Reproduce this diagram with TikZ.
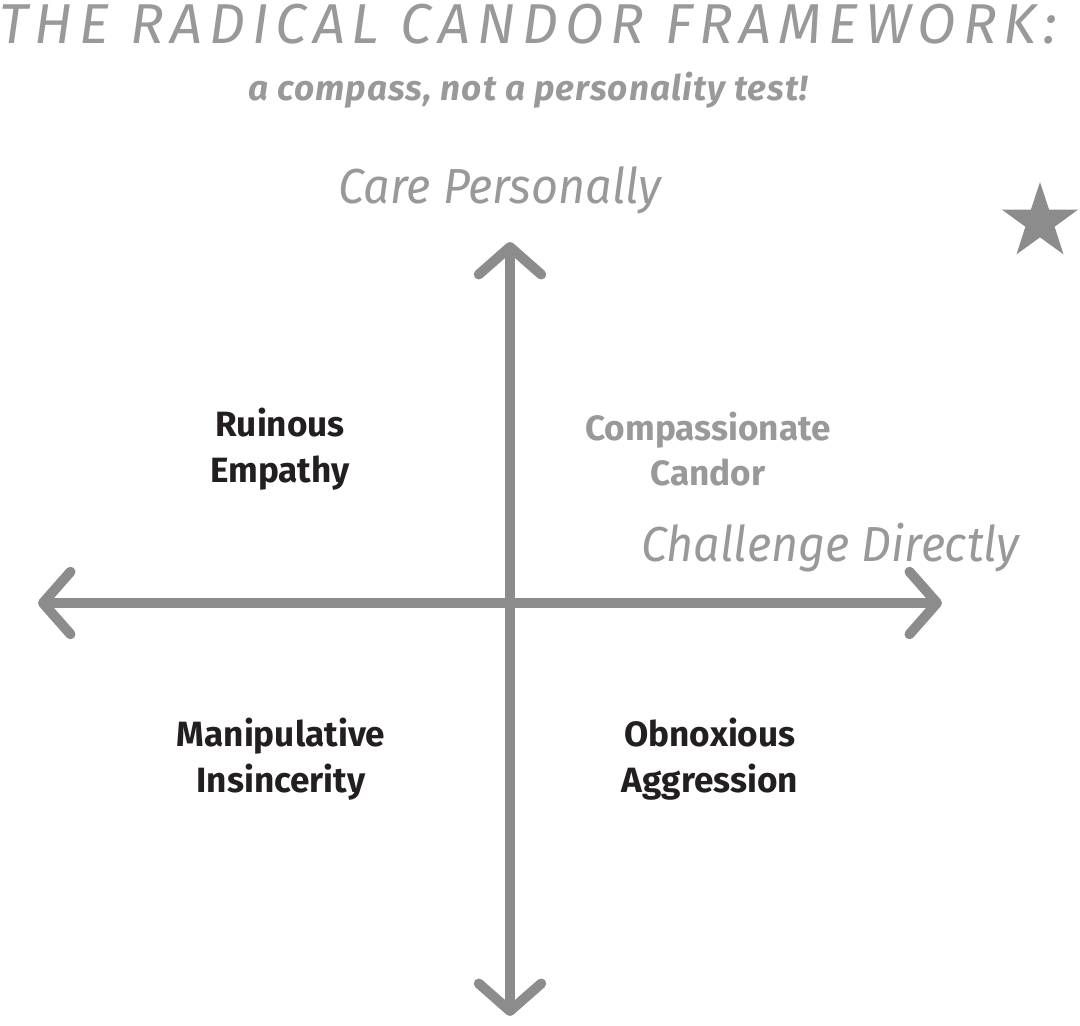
\documentclass[tikz,border=0pt]{standalone}
\usepackage{fontspec}
\setmainfont{Fira Sans}
\usetikzlibrary{arrows.meta,shapes.geometric}
\definecolor{ax}{HTML}{8C8C8C}
\definecolor{lt}{HTML}{999999}
\definecolor{dk}{HTML}{231F20}
\begin{document}
\begin{tikzpicture}[x=0.02cm,y=-0.02cm,
  axis/.style={draw=ax,line width=0.2cm,line cap=round,{Straight Barb[length=0.55cm,width=1.25cm,round]}-{Straight Barb[length=0.55cm,width=1.25cm,round]}},
  hand/.style={text=lt,font=\fontsize{28}{30}\selectfont\itshape\addfontfeatures{FakeStretch=0.95}},
  quad/.style={align=center,font=\fontsize{20}{26}\selectfont\bfseries,text=dk}]
\useasboundingbox (0,0) rectangle (1080,1026);
\node[hand,font=\fontsize{32}{34}\selectfont\itshape\addfontfeatures{LetterSpace=12}] (title) at (528,24) {THE RADICAL CANDOR FRAMEWORK:};
\node[text=lt,font=\fontsize{20}{24}\selectfont\bfseries\itshape\addfontfeatures{LetterSpace=3}] (sub) at (528,90) {a compass, not a personality test!};
\node[hand] (care) at (500,190) {Care Personally};
\node[hand] (chal) at (830,548) {Challenge Directly};
\node[star,star points=5,star point ratio=2.6,fill=ax,minimum size=1.6cm,inner sep=0pt] (star) at (1040,222) {};
\coordinate (top) at (510,242);
\coordinate (bot) at (510,1016);
\coordinate (left) at (38,603);
\coordinate (right) at (942,603);
\draw[axis] (bot) -- (top);
\draw[axis] (left) -- (right);
\node[quad] (re) at (280,449) {Ruinous\\Empathy};
\node[quad,text=lt] (cc) at (708,449) {Compassionate\\Candor};
\node[quad] (mi) at (281,759) {Manipulative\\Insincerity};
\node[quad] (oa) at (710,759) {Obnoxious\\Aggression};
\end{tikzpicture}
\end{document}
